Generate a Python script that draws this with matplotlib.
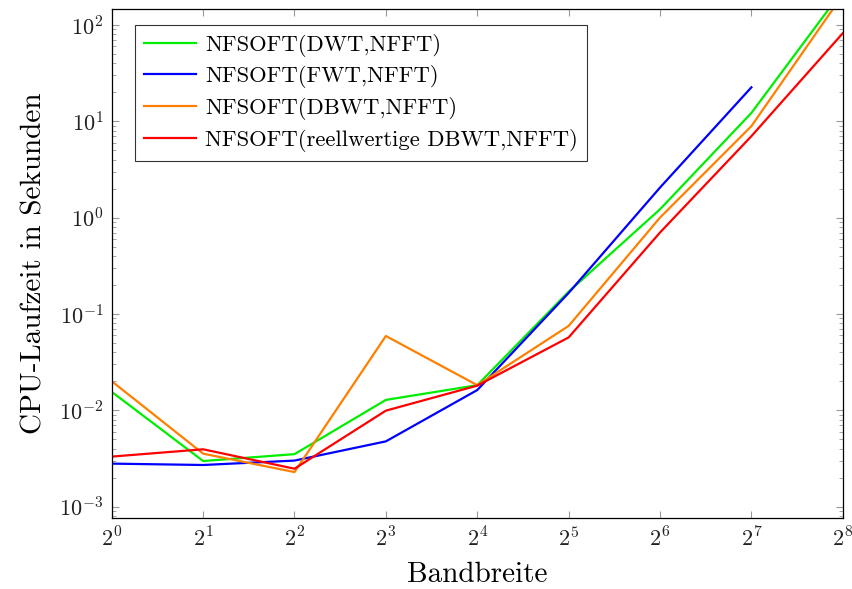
import matplotlib
matplotlib.use("Agg")
import matplotlib.pyplot as plt
import matplotlib.ticker as mticker
import numpy as np

plt.rcParams['font.family'] = 'serif'
plt.rcParams['font.serif'] = ['cmr10', 'DejaVu Serif']
plt.rcParams['mathtext.fontset'] = 'cm'
plt.rcParams['axes.formatter.use_mathtext'] = True

bandwidth = [1, 2, 4, 8, 16, 32, 64, 128, 256]
labels = ["NFSOFT(DWT,NFFT)", "NFSOFT(FWT,NFFT)", "NFSOFT(DBWT,NFFT)",
          "NFSOFT(reellwertige DBWT,NFFT)"]
dwt = [0.0155, 0.00297, 0.0035, 0.0128, 0.0182, 0.17, 1.22, 12.2, 229]
fwt = [0.00279, 0.0027, 0.0030, 0.00475, 0.0162, 0.165, 2.05, 22.5]
dbwt = [0.020, 0.00354, 0.00228, 0.059, 0.0182, 0.075, 1.0, 8.9, 205]
real_dbwt = [0.0033, 0.00393, 0.00247, 0.0099, 0.018, 0.057, 0.70, 7.0, 82]
colors = ["#00ee00", "#0000ff", "#ff8000", "#ff0000"]

fig = plt.figure(figsize=(8.53, 5.89), dpi=100)
ax = fig.add_axes([0.131, 0.1205, 0.857, 0.8645])

series = [dwt, fwt, dbwt, real_dbwt]
for vals, lab, c in zip(series, labels, colors):
    ax.plot(bandwidth[:len(vals)], vals, color=c, lw=1.6, label=lab)

ax.set_xscale('log', base=2)
ax.set_yscale('log')
ax.set_xlim(1, 256)
ax.set_ylim(7.6e-4, 147)
ax.set_xticks(bandwidth)
ax.set_xticklabels([r"$2^{%d}$" % i for i in range(9)])
ax.xaxis.set_minor_locator(mticker.NullLocator())
ax.yaxis.set_major_locator(mticker.LogLocator(base=10, numticks=20))
ax.yaxis.set_minor_locator(mticker.LogLocator(base=10, subs=np.arange(2, 10), numticks=20))
ax.yaxis.set_minor_formatter(mticker.NullFormatter())

ax.tick_params(which='both', direction='in', top=True, right=True, labelsize=16, colors='#222222')
ax.tick_params(which='major', length=5, color='#999999', pad=6)
ax.tick_params(which='minor', length=3, color='#999999')
for s in ax.spines.values():
    s.set_linewidth(0.9)

ax.set_xlabel("Bandbreite", fontsize=21, labelpad=8)
ax.set_ylabel("CPU-Laufzeit in Sekunden", fontsize=21, labelpad=8)

leg = ax.legend(loc='upper left', bbox_to_anchor=(0.016, 0.991), fontsize=16.3,
                frameon=True, fancybox=False, edgecolor='black',
                handlelength=2.3, handletextpad=0.4, labelspacing=0.38, borderpad=0.4)
leg.get_frame().set_linewidth(0.8)

fig.savefig("out.png", dpi=100)
